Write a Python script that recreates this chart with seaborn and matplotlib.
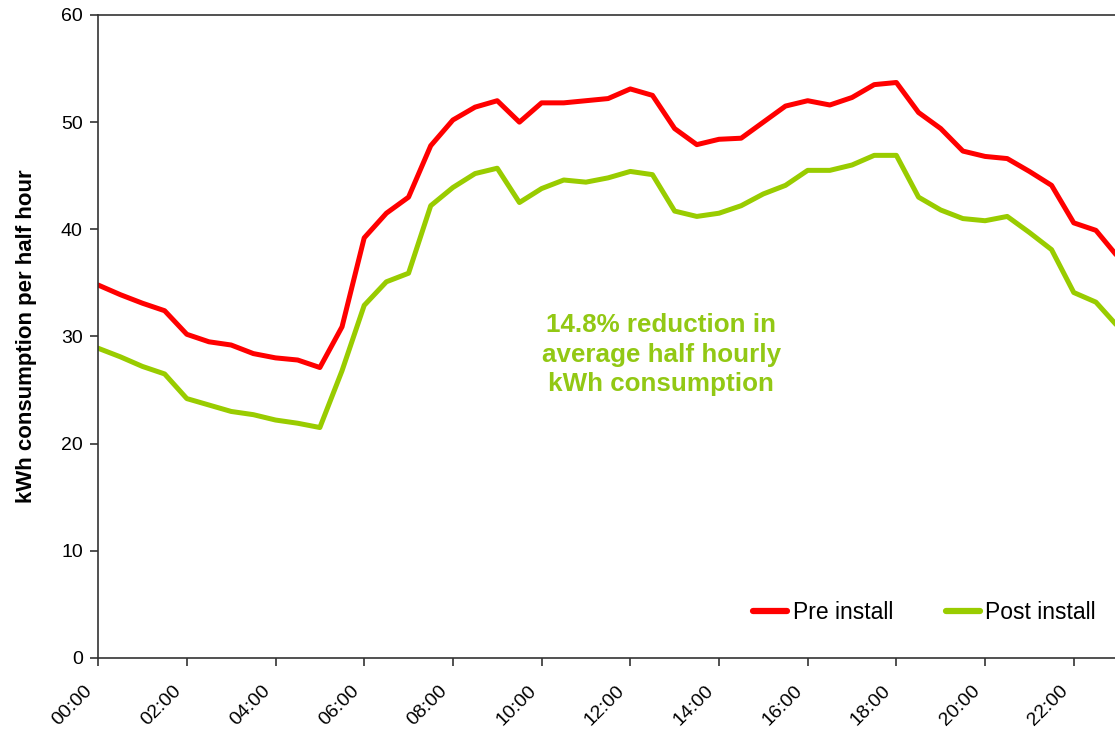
import numpy as np
import pandas as pd
import matplotlib
matplotlib.use("Agg")
import matplotlib.pyplot as plt
import matplotlib.transforms as mtrans
import seaborn as sns

# half hourly readings, 00:00 to 23:00
times = ["%02d:%02d" % (h, m) for h in range(24) for m in (0, 30)][:47]
pre_install = [34.8, 33.9, 33.1, 32.4, 30.2, 29.5, 29.2, 28.4, 28.0, 27.8,
               27.1, 30.9, 39.2, 41.5, 43.0, 47.8, 50.2, 51.4, 52.0, 50.0,
               51.8, 51.8, 52.0, 52.2, 53.1, 52.5, 49.4, 47.9, 48.4, 48.5,
               50.0, 51.5, 52.0, 51.6, 52.3, 53.5, 53.7, 50.9, 49.4, 47.3,
               46.8, 46.6, 45.4, 44.1, 40.6, 39.9, 37.4]
post_install = [28.9, 28.1, 27.2, 26.5, 24.2, 23.6, 23.0, 22.7, 22.2, 21.9,
                21.5, 26.8, 32.9, 35.1, 35.9, 42.2, 43.9, 45.2, 45.7, 42.5,
                43.8, 44.6, 44.4, 44.8, 45.4, 45.1, 41.7, 41.2, 41.5, 42.2,
                43.3, 44.1, 45.5, 45.5, 46.0, 46.9, 46.9, 43.0, 41.8, 41.0,
                40.8, 41.2, 39.7, 38.1, 34.1, 33.2, 30.9]
tick_labels = ["00:00", "02:00", "04:00", "06:00", "08:00", "10:00",
               "12:00", "14:00", "16:00", "18:00", "20:00", "22:00"]

hours = [int(t[:2]) + int(t[3:]) / 60 for t in times]
df = pd.DataFrame({
    "hour": hours * 2,
    "kwh": pre_install + post_install,
    "serie": ["Pre install"] * len(hours) + ["Post install"] * len(hours),
})

sns.set_style("white")
plt.rcParams["font.family"] = ["Liberation Sans", "DejaVu Sans"]

fig = plt.figure(figsize=(11.15, 7.31), dpi=100)
ax = fig.add_axes([0.088, 0.1, 0.912, 0.8795])

sns.lineplot(data=df, x="hour", y="kwh", hue="serie", ax=ax,
             palette={"Pre install": "#ff0000", "Post install": "#99cc00"},
             linewidth=3.6, solid_joinstyle="round", solid_capstyle="round")

ax.set_xlim(0, 22.93)
ax.set_ylim(0, 60)
ax.set_yticks(range(0, 61, 10))
ax.set_xticks([int(t[:2]) for t in tick_labels])
ax.set_xticklabels(tick_labels, rotation=45, ha="right", va="center",
                   rotation_mode="anchor")
ax.tick_params(axis="both", direction="out", length=6, width=1.2, color="#333333",
               labelsize=14, labelcolor="black", left=True, bottom=True)
ax.tick_params(axis="y", pad=5)
ax.tick_params(axis="x", pad=16)
shift = mtrans.ScaledTranslation(-8 / 100, 0, fig.dpi_scale_trans)
for lab in ax.get_xticklabels():
    lab.set_transform(lab.get_transform() + shift)
for s in ["left", "bottom", "top"]:
    ax.spines[s].set_color("#333333")
    ax.spines[s].set_linewidth(1.2)
ax.spines["right"].set_visible(False)

ax.set_xlabel("")
ax.set_ylabel("kWh consumption per half hour", fontsize=16, fontweight="bold",
              color="black", labelpad=17)

ax.text(12.7, 28.3, "14.8% reduction in\naverage half hourly\nkWh consumption",
        color="#92c814", fontsize=18.7, fontweight="bold", ha="center", va="center",
        linespacing=1.3)

leg = ax.legend(loc="lower right", bbox_to_anchor=(0.99, 0.038), frameon=False, ncol=2,
                fontsize=16.5, handlelength=1.5, handletextpad=0.22, columnspacing=2.3,
                borderaxespad=0)
for line in leg.get_lines():
    line.set_linewidth(4.5)
for t in leg.get_texts():
    t.set_color("black")

plt.savefig("out.png", dpi=100)
